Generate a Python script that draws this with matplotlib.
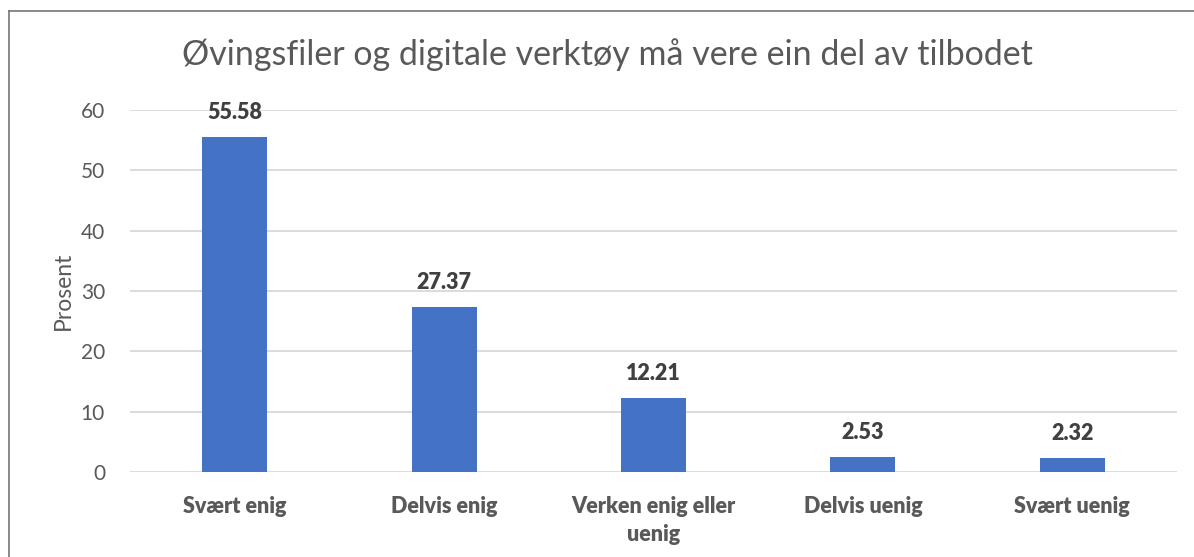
import matplotlib
matplotlib.use("Agg")
import matplotlib.pyplot as plt
from matplotlib.lines import Line2D

categories = ["Svært enig", "Delvis enig", "Verken enig eller\nuenig", "Delvis uenig", "Svært uenig"]
values = [55.58, 27.37, 12.21, 2.53, 2.32]
yticks = [0, 10, 20, 30, 40, 50, 60]
title = "Øvingsfiler og digitale verktøy må vere ein del av tilbodet"
ylabel = "Prosent"

plt.rcParams['font.family'] = ['Lato', 'DejaVu Sans']

W, H = 1194, 557
fig = plt.figure(figsize=(W / 100, H / 100), dpi=100)
ax = fig.add_axes([130 / W, (H - 472) / H, (1177 - 130) / W, (472 - 110) / H])

x = list(range(len(categories)))
bars = ax.bar(x, values, width=0.31, color="#4472C4", zorder=3)
for xi, v in zip(x, values):
    ax.annotate(f"{v:.2f}", (xi, v), xytext=(0, 10), textcoords="offset points",
                ha="center", va="bottom", fontsize=15.5, fontweight="heavy", color="#404040")

ax.set_xlim(-0.5, len(categories) - 0.5)
ax.set_ylim(0, 60)
ax.set_yticks(yticks)
ax.set_xticks(x)
ax.set_xticklabels(categories, fontsize=15.5, fontweight="heavy", color="#595959", linespacing=1.45)
ax.tick_params(axis="y", labelsize=15, labelcolor="#595959", length=0, pad=18)
ax.tick_params(axis="x", length=0, pad=17)
ax.grid(axis="y", color="#D9D9D9", linewidth=1.3, zorder=0)
for s in ax.spines.values():
    s.set_visible(False)
ax.set_ylabel(ylabel, fontsize=16.5, color="#595959", labelpad=5)

fig.text(607 / W, 1 - 55 / H, title, ha="center", va="center", fontsize=24.5, color="#595959")

# outer border
fig.add_artist(Line2D([9 / W, 9 / W], [0, 1 - 11 / H], transform=fig.transFigure, color="#767676", lw=1.2))
fig.add_artist(Line2D([9 / W, 1], [1 - 11 / H, 1 - 11 / H], transform=fig.transFigure, color="#767676", lw=1.2))

fig.savefig("out.png", dpi=100)
